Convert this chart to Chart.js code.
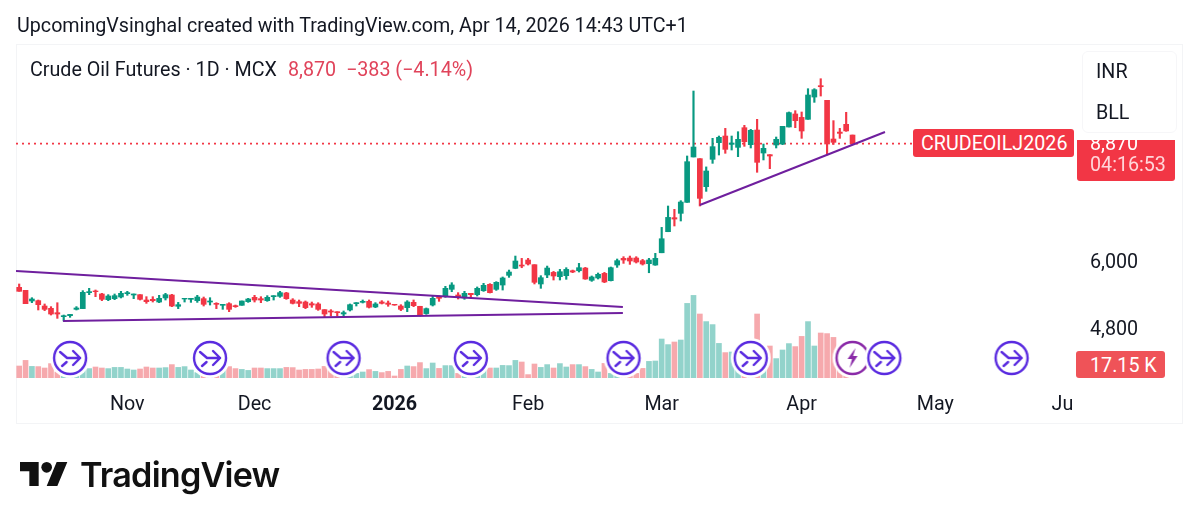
<!DOCTYPE html>
<html>
<head>
<meta charset="utf-8">
<title>Crude Oil Futures</title>
<script src="https://cdn.jsdelivr.net/npm/chart.js@4"></script>
<style>
  html, body { margin: 0; padding: 0; background: #fff; }
  body { width: 1200px; height: 524px; overflow: hidden; position: relative; font-family: Roboto, sans-serif; color: #131722; }
  #chart { position: absolute; left: 0; top: 0; }
  .abs { position: absolute; white-space: nowrap; font-size: 19.7px; line-height: 22px; }
  .frame { position: absolute; left: 16px; top: 44px; width: 1167px; height: 380px; border: 1px solid #f3f4f6; box-sizing: border-box; }
  .red { color: #e0435a; }
  .tag { background: #f23645; color: #fff; border-radius: 3px; }
</style>
</head>
<body>
<div class="frame"></div>
<canvas id="chart" width="1200" height="524"></canvas>

<div class="abs" style="left:17px;top:15px">UpcomingVsinghal created with TradingView.com, Apr 14, 2026 14:43 UTC+1</div>
<div class="abs" style="left:30px;top:59px">Crude Oil Futures · 1D · MCX</div>
<div class="abs red" style="left:288px;top:59px">8,870</div>
<div class="abs red" style="left:346px;top:59px">−383 (−4.14%)</div>

<div class="abs tag" style="left:913px;top:129px;width:161px;height:28px;line-height:30px;text-indent:8px">CRUDEOILJ2026</div>
<div class="abs tag" style="left:1077px;top:140px;width:98px;height:41px;overflow:hidden;border-radius:0 0 3px 3px">
  <div style="position:absolute;left:13px;top:-7px;line-height:22px">8,870</div>
  <div style="position:absolute;left:13px;top:14px;line-height:22px;color:#ffd6da">04:16:53</div>
</div>
<div class="abs" style="left:1082px;top:51px;width:95px;height:82px;background:#fff;border:1px solid #f6f6f8;box-sizing:border-box;border-radius:6px">
  <div style="position:absolute;left:13px;top:9px">INR</div>
  <div style="position:absolute;left:13px;top:50px">BLL</div>
</div>
<div class="abs" style="left:1076px;top:351px;width:89px;height:27px;line-height:29px;background:#ef5358;color:#fff;border-radius:3px;text-indent:14px">17.15 K</div>

<svg style="position:absolute;left:20px;top:462px" width="48" height="24" viewBox="0 4 36 18">
  <path fill="#111" d="M14 22H7V11H0V4h14v18zM28 22h-8l7.5-18h8L28 22z"/>
  <circle fill="#111" cx="20" cy="8" r="4"/>
</svg>
<div class="abs" style="left:80px;top:454px;font-family:Inter,sans-serif;font-weight:600;font-size:34.2px;line-height:42px;letter-spacing:-0.8px;color:#111">TradingView</div>

<script>
const monthLabels = ['Nov', 'Dec', '2026', 'Feb', 'Mar', 'Apr', 'May', 'Ju'];
const monthSlots = [17, 37, 59, 80, 101, 123, 144, 164];
const priceTicks = [4800, 6000];
const slotCount = 166;

const opens = [5496,5442,5252,5258,5165,5125,5051,4985,5001,5108,5120,5400,5430,5376,5275,5293,5322,5382,5358,5364,
  5269,5281,5234,5305,5358,5160,5287,5281,5258,5293,5234,5211,5177,5205,5171,5177,5240,5316,5293,5258,
  5328,5334,5394,5269,5240,5234,5205,5200,5103,5080,5068,5030,5097,5205,5229,5246,5148,5235,5217,5194,
  5165,5137,5229,5160,5036,5182,5328,5328,5460,5358,5305,5388,5364,5435,5552,5460,5539,5720,5855,5920,
  6020,5927,5558,5727,5777,5695,5714,5809,5809,5861,5626,5670,5758,5620,5920,6053,6060,6060,6007,5947,
  5920,6167,6615,6931,7032,7294,8484,8437,7685,8418,8898,9097,8848,8760,9353,8839,9281,8597,8550,8829,
  8858,9375,9790,9680,9617,10358,10758,10246,9007,9218,9458,9127];
const highs = [5558,5442,5310,5269,5200,5154,5222,5012,5023,5154,5436,5478,5448,5388,5364,5376,5424,5424,5376,5364,
  5328,5328,5352,5388,5370,5228,5299,5299,5352,5322,5310,5222,5194,5222,5182,5252,5299,5352,5328,5346,
  5346,5424,5406,5293,5269,5252,5234,5222,5103,5103,5068,5080,5200,5223,5270,5270,5223,5258,5252,5194,
  5188,5258,5270,5160,5131,5352,5340,5515,5582,5400,5424,5388,5503,5570,5564,5601,5689,5822,6100,6053,
  6053,5927,5714,5900,5796,5835,5868,5822,5953,5874,5708,5765,5777,5881,6040,6087,6100,6087,6033,6053,
  6155,6711,7206,7126,7335,8512,10568,8437,8208,9027,9097,9332,9097,9229,9426,9301,9617,8858,8550,9067,
  9396,9855,9898,9855,10650,10650,11010,10246,9575,9332,9845,9127];
const lows = [5424,5205,5223,5097,5086,5012,4957,4914,4974,5097,5120,5364,5328,5258,5258,5275,5305,5352,5293,5269,
  5211,5234,5223,5269,5154,5120,5234,5228,5228,5165,5182,5120,5108,5068,5142,5177,5228,5234,5223,5246,
  5269,5316,5281,5200,5154,5120,5142,5091,4985,4996,4996,4974,5080,5165,5217,5131,5137,5200,5160,5177,
  5086,5069,5154,4996,5024,5165,5246,5316,5417,5287,5281,5305,5340,5423,5394,5441,5447,5682,5848,5867,
  5920,5558,5478,5676,5632,5632,5645,5771,5784,5645,5607,5651,5583,5614,5874,5953,5933,5960,5920,5770,
  5914,6167,6615,6742,6855,7294,8484,7206,7566,8306,8540,8588,8683,8493,8790,8742,8062,8400,8160,8742,
  8839,9375,9353,9027,9617,10177,10393,8540,8848,9027,9240,8848];
const closes = [5424,5205,5287,5188,5108,5029,5029,5001,5023,5131,5406,5418,5418,5281,5340,5346,5388,5400,5376,5281,
  5240,5258,5299,5364,5165,5188,5299,5299,5322,5194,5252,5194,5194,5108,5154,5252,5287,5269,5269,5316,
  5346,5400,5293,5211,5211,5137,5182,5108,5029,5062,5051,5052,5188,5223,5246,5143,5200,5211,5194,5182,
  5108,5235,5171,5002,5120,5299,5299,5478,5540,5316,5388,5364,5478,5533,5400,5589,5670,5784,6000,5900,
  5940,5589,5676,5861,5708,5790,5835,5784,5868,5651,5689,5740,5595,5868,6007,6020,6000,5980,5940,6020,
  6053,6462,6938,6900,7302,8352,8770,7392,8097,8780,9057,8702,8888,8998,8927,9271,8334,8731,8512,8998,
  9396,9835,9575,9250,10428,10615,10720,8858,8908,9178,9253,8870];
const volumes = [60,88,58,57,50,72,30,10,10,23,43,47,55,50,47,53,53,45,40,45,
  55,50,50,52,67,53,57,40,27,20,13,20,37,57,47,43,38,50,50,47,
  47,47,53,52,40,43,43,45,58,37,17,13,25,23,30,42,33,27,33,10,
  43,60,57,77,47,75,48,62,62,23,20,15,20,40,50,50,63,62,88,80,
  17,70,53,67,50,72,55,67,67,57,43,30,73,23,20,13,13,23,48,83,
  85,195,167,180,190,373,413,320,282,267,173,127,130,115,60,50,320,40,160,97,
  140,172,157,208,282,160,225,222,203,40,25,17.15];

const descendLine = [{ x: -0.5, y: 5803 }, { x: 94.9, y: 5148 }];
const supportLine = [{ x: 6.9, y: 4913 }, { x: 94.9, y: 5046 }];
const riseLine = [{ x: 107, y: 7230 }, { x: 136.1, y: 9219 }];
const lastPriceLine = [{ x: -0.5, y: 8870 }, { x: 140.5, y: 8870 }];
const splitEvents = [8, 30, 51, 71, 95, 115, 136, 156];
const flashEvents = [131];
const iconLevel = 100;

const GREEN = '#089981', RED = '#f23645', PURPLE = '#6f1f9e';

function makeIcon(flash) {
  const c = document.createElement('canvas');
  c.width = 42; c.height = 42;
  const g = c.getContext('2d');
  g.translate(21, 21);
  g.fillStyle = '#fff';
  g.beginPath(); g.arc(0, 0, 20, 0, Math.PI * 2); g.fill();
  const col = flash ? '#8a2aa8' : '#5a2be0';
  g.strokeStyle = col; g.fillStyle = col; g.lineWidth = 2.4; g.lineCap = 'round'; g.lineJoin = 'round';
  g.beginPath(); g.arc(0, 0, 16, 0, Math.PI * 2); g.stroke();
  if (flash) {
    g.beginPath();
    g.moveTo(3, -10); g.lineTo(-5, 1); g.lineTo(-0.5, 1); g.lineTo(-3, 10); g.lineTo(5, -2); g.lineTo(0.5, -2);
    g.closePath(); g.fill();
  } else {
    g.beginPath();
    g.moveTo(-10, -6); g.lineTo(-3, 0); g.lineTo(10, 0);
    g.moveTo(3, -7); g.lineTo(10, 0); g.lineTo(3, 7);
    g.moveTo(-8, 8); g.lineTo(-3.5, 4);
    g.stroke();
  }
  return c;
}

const up = closes.map((c, i) => c >= opens[i]);
const slots = Array.from({ length: slotCount }, (_, i) => {
  const m = monthSlots.indexOf(i);
  return m >= 0 ? monthLabels[m] : '';
});

new Chart(document.getElementById('chart'), {
  type: 'bar',
  data: {
    labels: slots,
    datasets: [
      { data: volumes, yAxisID: 'yVol', order: 6, grouped: false, barThickness: 5,
        backgroundColor: up.map(u => u ? '#92d3cb' : '#f6a9ad') },
      { type: 'line', data: lastPriceLine, xAxisID: 'xl', order: 5, borderColor: RED, borderWidth: 1.6, borderDash: [2, 4], pointRadius: 0 },
      { data: lows.map((l, i) => [l, highs[i]]), order: 4, grouped: false, barThickness: 1.5,
        backgroundColor: up.map(u => u ? GREEN : RED) },
      { data: opens.map((o, i) => [o, closes[i]]), order: 3, grouped: false, barThickness: 5,
        backgroundColor: up.map(u => u ? GREEN : RED) },
      { type: 'line', data: descendLine, xAxisID: 'xl', order: 2, borderColor: PURPLE, borderWidth: 2, pointRadius: 0 },
      { type: 'line', data: supportLine, xAxisID: 'xl', order: 2, borderColor: PURPLE, borderWidth: 2, pointRadius: 0 },
      { type: 'line', data: riseLine, xAxisID: 'xl', order: 2, borderColor: PURPLE, borderWidth: 2, pointRadius: 0 },
      { type: 'scatter', data: flashEvents.map(x => ({ x, y: iconLevel })), xAxisID: 'xl', yAxisID: 'yVol', order: 1, clip: false,
        pointStyle: makeIcon(true), pointRadius: 20 },
      { type: 'scatter', data: splitEvents.map(x => ({ x, y: iconLevel })), xAxisID: 'xl', yAxisID: 'yVol', order: 0, clip: false,
        pointStyle: makeIcon(false), pointRadius: 20 }
    ]
  },
  options: {
    responsive: false,
    animation: false,
    layout: { autoPadding: false, padding: { left: 16, top: 49, right: 0, bottom: 106 } },
    plugins: { legend: { display: false }, tooltip: { enabled: false } },
    scales: {
      x: {
        offset: true,
        grid: { display: false },
        border: { display: false },
        afterFit: s => { s.height = 40; },
        ticks: {
          autoSkip: false, maxRotation: 0, minRotation: 0, padding: 7, color: '#131722',
          font: ctx => ({ family: 'Roboto', size: 19.7, weight: ctx.tick && ctx.tick.label === '2026' ? 'bold' : 'normal' }),
          callback(v) { return this.getLabelForValue(v); }
        }
      },
      xl: { type: 'linear', display: false, offset: false, min: -0.5, max: slotCount - 0.5 },
      y: {
        type: 'logarithmic',
        position: 'right',
        min: 4064,
        max: 12155,
        grid: { display: false },
        border: { display: false },
        afterBuildTicks: s => { s.ticks = priceTicks.map(value => ({ value })); },
        afterFit: s => { s.width = 128; },
        ticks: {
          padding: 10, labelOffset: 2, color: '#131722', font: { family: 'Roboto', size: 19.7 },
          callback: v => v.toLocaleString('en-US')
        }
      },
      yVol: { type: 'linear', display: false, min: 0, max: 1645 }
    }
  }
});
</script>
</body>
</html>
